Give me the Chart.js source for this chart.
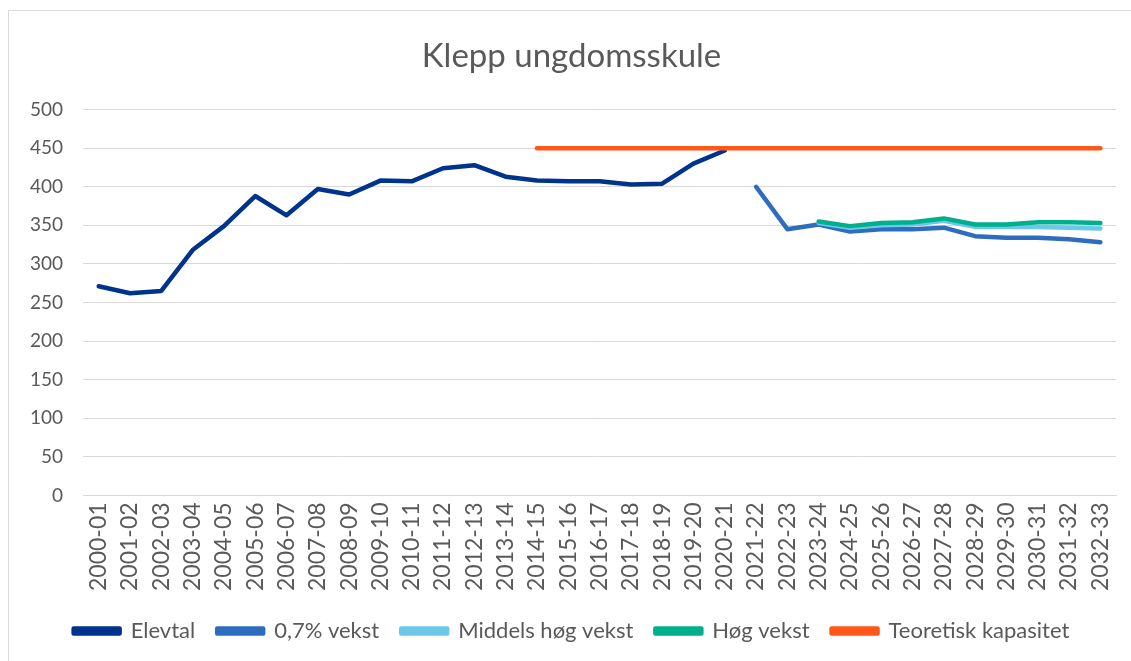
<!DOCTYPE html>
<html>
<head>
<meta charset="utf-8">
<script src="https://cdn.jsdelivr.net/npm/chart.js@4"></script>
<style>
html,body{margin:0;padding:0;background:#fff;overflow:hidden;width:1131px;height:661px;}
#wrap{position:absolute;left:8px;top:10px;width:1128px;height:660px;border:1px solid #d9d9d9;box-sizing:border-box;}
</style>
</head>
<body>
<div id="wrap"><canvas id="c"></canvas></div>
<script>
const categories = ["2000-01","2001-02","2002-03","2003-04","2004-05","2005-06","2006-07","2007-08","2008-09","2009-10","2010-11","2011-12","2012-13","2013-14","2014-15","2015-16","2016-17","2017-18","2018-19","2019-20","2020-21","2021-22","2022-23","2023-24","2024-25","2025-26","2026-27","2027-28","2028-29","2029-30","2030-31","2031-32","2032-33"];
const elevtal = [271,262,265,318,349,388,363,397,390,408,407,424,428,413,408,407,407,403,404,430,447,null,null,null,null,null,null,null,null,null,null,null,null];
const vekst07 = [null,null,null,null,null,null,null,null,null,null,null,null,null,null,null,null,null,null,null,null,null,400,345,351,342,345,345,347,336,334,334,332,328];
const middelsHog = [null,null,null,null,null,null,null,null,null,null,null,null,null,null,null,null,null,null,null,null,null,null,null,353,347,350,351,356,348,348,348,347,346];
const hogVekst = [null,null,null,null,null,null,null,null,null,null,null,null,null,null,null,null,null,null,null,null,null,null,null,355,349,353,354,359,351,351,354,354,353];
const kapasitet = [null,null,null,null,null,null,null,null,null,null,null,null,null,null,450,450,450,450,450,450,450,450,450,450,450,450,450,450,450,450,450,450,450];
const yTicks = [0,50,100,150,200,250,300,350,400,450,500];

function ds(label, data, color, order){
  return {label, data, borderColor: color, backgroundColor: color, borderWidth: 4.5,
    pointRadius: 0, pointHoverRadius: 0, tension: 0, spanGaps: false, borderCapStyle: 'round', borderJoinStyle: 'round', order};
}
const FONT = 'Lato, "Liberation Sans", sans-serif';
new Chart(document.getElementById('c'), {
  type: 'line',
  data: {
    labels: categories,
    datasets: [
      ds('Elevtal', elevtal, '#00338D', 5),
      ds('0,7% vekst', vekst07, '#2E6DBE', 4),
      ds('Middels høg vekst', middelsHog, '#6CC7EA', 3),
      ds('Høg vekst', hogVekst, '#00AF8C', 2),
      ds('Teoretisk kapasitet', kapasitet, '#FF5719', 1)
    ]
  },
  options: {
    responsive: true, maintainAspectRatio: false, animation: false,
    layout: {padding: {left: 1, right: 2, top: 10, bottom: 17}},
    plugins: {
      title: {display: true, text: 'Klepp ungdomsskule', color: '#595959',
        font: {family: FONT, size: 33, weight: 'normal'}, padding: {top: 16, bottom: 33}},
      legend: {position: 'bottom', labels: {color: '#595959', font: {family: FONT, size: 22},
        boxWidth: 46, boxHeight: 5, padding: 22, sort: (a, b) => a.datasetIndex - b.datasetIndex}},
      tooltip: {enabled: false}
    },
    scales: {
      x: {offset: true, grid: {display: false, drawTicks: false},
        border: {color: '#d9d9d9', width: 1},
        ticks: {color: '#595959', font: {family: FONT, size: 23}, maxRotation: 90, minRotation: 90, autoSkip: false, padding: 7}},
      y: {min: 0, max: 500, afterBuildTicks: (ax) => { ax.ticks = yTicks.map(v => ({value: v})); },
        grid: {color: '#d9d9d9', lineWidth: 1, drawTicks: false},
        border: {display: false},
        ticks: {color: '#595959', font: {family: FONT, size: 19}, padding: 20}}
    }
  }
});
</script>
</body>
</html>
